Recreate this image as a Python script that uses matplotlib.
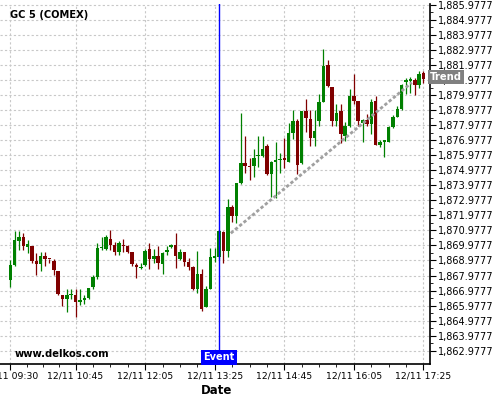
import numpy as np
import matplotlib
matplotlib.use('Agg')
from matplotlib import pyplot as plt
from matplotlib import transforms

# 5分钟K线, 12/11 09:30 - 17:25
opens = [1867.68, 1868.70, 1870.30, 1870.56, 1869.90, 1869.97, 1868.92, 1868.75, 1869.30, 1869.10,
         1868.92, 1868.27, 1866.70, 1866.39, 1866.68, 1866.67, 1866.19, 1866.34, 1866.47, 1867.24,
         1867.87, 1869.84, 1869.76, 1870.40, 1870.00, 1869.51, 1870.00, 1869.97, 1869.53, 1868.66,
         1868.48, 1868.66, 1869.73, 1869.08, 1869.30, 1868.75, 1869.51, 1869.86, 1870.00, 1869.08,
         1869.51, 1868.86, 1868.53, 1867.06, 1868.11, 1865.90, 1867.10, 1869.15, 1869.18, 1870.89,
         1869.58, 1872.51, 1871.95, 1874.10, 1875.43, 1875.23, 1875.23, 1875.90, 1875.90, 1876.60,
         1874.75, 1875.54, 1875.68, 1875.78, 1875.54, 1877.44, 1878.28, 1875.45, 1878.94, 1878.39,
         1877.11, 1878.28, 1879.54, 1881.99, 1880.53, 1878.28, 1878.90, 1877.25, 1877.91, 1879.94,
         1879.61, 1878.11, 1878.29, 1878.07, 1879.61, 1876.63, 1876.86, 1876.89, 1877.89, 1878.55,
         1879.04, 1880.88, 1880.95, 1880.99, 1880.66, 1881.43]
highs = [1869.03, 1870.96, 1870.96, 1870.78, 1870.35, 1869.97, 1869.50, 1869.54, 1869.54, 1869.10,
         1869.10, 1868.30, 1866.70, 1867.06, 1867.06, 1867.06, 1867.06, 1866.68, 1867.13, 1868.00,
         1870.13, 1870.56, 1870.67, 1871.00, 1870.22, 1870.24, 1870.40, 1870.00, 1869.57, 1868.81,
         1868.81, 1869.73, 1870.13, 1869.73, 1869.95, 1869.57, 1869.93, 1870.10, 1870.78, 1869.73,
         1869.57, 1869.14, 1868.60, 1869.60, 1868.38, 1867.28, 1869.80, 1869.80, 1871.00, 1870.95,
         1873.06, 1872.68, 1874.10, 1878.78, 1877.27, 1875.80, 1876.40, 1877.27, 1877.27, 1876.75,
         1875.60, 1876.87, 1876.10, 1877.10, 1878.09, 1879.01, 1878.39, 1878.94, 1879.71, 1878.98,
         1878.98, 1880.04, 1883.02, 1882.32, 1880.53, 1879.38, 1879.38, 1878.20, 1880.39, 1881.38,
         1879.61, 1878.40, 1878.70, 1879.70, 1879.94, 1877.00, 1877.00, 1877.90, 1878.66, 1879.26,
         1880.73, 1881.10, 1881.17, 1881.10, 1881.55, 1881.59]
lows = [1867.24, 1868.60, 1869.70, 1869.70, 1869.47, 1868.81, 1867.98, 1868.30, 1868.60, 1868.81,
        1867.98, 1866.70, 1865.97, 1865.58, 1866.40, 1865.20, 1866.02, 1866.06, 1866.40, 1867.10,
        1867.72, 1869.65, 1869.70, 1869.70, 1869.36, 1869.36, 1869.57, 1869.47, 1868.60, 1867.83,
        1868.44, 1868.60, 1868.38, 1868.81, 1868.38, 1868.10, 1869.36, 1869.79, 1868.47, 1869.03,
        1868.60, 1868.33, 1867.00, 1866.84, 1865.64, 1865.86, 1867.06, 1868.86, 1869.10, 1868.80,
        1869.18, 1871.51, 1871.47, 1874.05, 1874.83, 1874.35, 1874.50, 1875.20, 1875.85, 1874.68,
        1873.20, 1873.15, 1874.80, 1875.10, 1875.50, 1877.06, 1874.75, 1875.40, 1877.51, 1876.62,
        1876.62, 1877.95, 1879.50, 1880.49, 1877.95, 1877.95, 1876.80, 1876.95, 1877.85, 1879.39,
        1877.95, 1876.89, 1877.95, 1877.40, 1876.63, 1876.50, 1875.85, 1876.85, 1877.78, 1878.55,
        1878.99, 1880.04, 1880.11, 1879.99, 1880.44, 1880.77]
closes = [1868.70, 1870.35, 1870.56, 1869.97, 1870.05, 1868.92, 1868.75, 1869.30, 1869.10, 1869.06,
          1868.33, 1866.76, 1866.39, 1866.70, 1866.72, 1866.19, 1866.34, 1866.50, 1867.13, 1867.87,
          1869.84, 1869.90, 1870.56, 1870.00, 1869.51, 1870.13, 1869.96, 1869.53, 1868.75, 1868.55,
          1868.52, 1869.62, 1869.08, 1869.30, 1868.81, 1869.47, 1869.65, 1870.00, 1869.25, 1869.51,
          1868.86, 1868.53, 1867.06, 1868.11, 1865.75, 1867.10, 1869.20, 1869.25, 1870.95, 1869.62,
          1872.51, 1871.91, 1874.10, 1875.43, 1875.23, 1875.18, 1875.79, 1875.98, 1876.39, 1874.72,
          1875.54, 1875.65, 1875.74, 1875.66, 1877.45, 1878.28, 1875.30, 1878.94, 1878.43, 1877.11,
          1877.62, 1879.54, 1881.92, 1880.60, 1878.28, 1878.76, 1877.40, 1877.95, 1879.94, 1879.61,
          1878.24, 1878.29, 1878.07, 1879.55, 1876.63, 1876.89, 1876.96, 1877.89, 1878.55, 1879.04,
          1880.66, 1880.99, 1881.04, 1880.66, 1881.39, 1881.03]

tick_idx = [0, 15, 31, 47, 63, 79, 95]
tick_labels = ['12/11 09:30', '12/11 10:45', '12/11 12:05', '12/11 13:25',
               '12/11 14:45', '12/11 16:05', '12/11 17:25']
event_idx = 48
trend_x = [50.7, 92.3]
trend_y = [1870.79, 1880.81]
price_ticks = [1862.9777 + k for k in range(24)]

o = np.array(opens); h = np.array(highs); l = np.array(lows); c = np.array(closes)
x = np.arange(len(o))
up = c >= o
col = np.where(up, '#008000', '#800000')

fig = plt.figure(figsize=(5, 4), dpi=100)
ax = fig.add_axes([0.0, 0.09, 0.86, 0.90])

ax.vlines(x, l, h, colors=col, linewidth=0.9, zorder=3)
body = np.maximum(np.abs(c - o), 0.06)
ax.bar(x, body, bottom=np.minimum(o, c), width=0.8, color=col, zorder=4)

# 趋势线
ax.plot(trend_x, trend_y, color='#a0a0a0', linewidth=2, linestyle=(0, (1.2, 0.8)), zorder=5)

# 事件线
ax.axvline(event_idx, color='#0000ff', linewidth=1, zorder=6)
tr = transforms.blended_transform_factory(ax.transData, ax.transAxes)
ax.text(event_idx, 0.005, 'Event', transform=tr, ha='center', va='bottom', color='white',
        fontsize=7, fontweight='bold', zorder=7,
        bbox=dict(boxstyle='square,pad=0.25', fc='#0000ff', ec='none'))

ax.set_xlim(-2.37, 96.5)
ax.set_ylim(1862.09, 1886.04)

ax.set_xticks(tick_idx)
ax.set_xticklabels(tick_labels, fontsize=6.7)
minor_x = []
for a, b in zip(tick_idx[:-1], tick_idx[1:]):
    minor_x += list(np.linspace(a, b, 5)[1:-1])
ax.set_xticks(minor_x, minor=True)

ax.yaxis.tick_right()
ax.set_yticks(price_ticks)
ax.set_yticklabels(['{:,.4f}'.format(v) for v in price_ticks], fontsize=7)
ax.set_yticks([v + 0.5 for v in price_ticks[:-1]], minor=True)
ax.tick_params(axis='both', which='major', length=4, width=0.8, pad=1.5)
ax.tick_params(axis='both', which='minor', length=2, width=0.6)

ax.grid(True, which='major', color='#c8c8c8', linestyle=(0, (2, 2)), linewidth=0.8)
ax.set_axisbelow(True)
for s in ['left', 'top']:
    ax.spines[s].set_visible(False)
ax.spines['right'].set_linewidth(1.2)
ax.spines['bottom'].set_linewidth(1.2)

ax.text(10 / 430, 1 - 11.5 / 360, 'GC 5 (COMEX)', transform=ax.transAxes, fontsize=7.1,
        fontweight='bold', va='center', ha='left')
ax.text(15 / 430, 10 / 360, 'www.delkos.com', transform=ax.transAxes, fontsize=7.2,
        fontweight='bold', va='center', ha='left')

# Trend 标签
ax.text(1.0, 1881.2, 'Trend', transform=transforms.blended_transform_factory(ax.transAxes, ax.transData),
        ha='left', va='center', color='white', fontsize=7.2, fontweight='bold', zorder=10,
        bbox=dict(boxstyle='square,pad=0.2', fc='#808080', ec='none'), clip_on=False)

fig.text(217 / 500, 1 - 390 / 400, 'Date', ha='center', va='center', fontsize=8.5, fontweight='bold')

plt.savefig('out.png', dpi=100)
